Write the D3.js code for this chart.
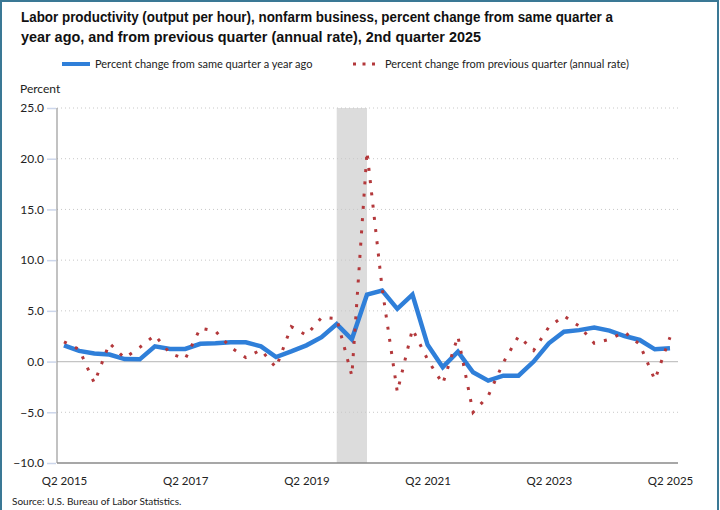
<!DOCTYPE html>
<html lang="en">
<head>
<meta charset="UTF-8">
<title>Labor productivity, nonfarm business</title>
<script src="https://d3js.org/d3.v7.min.js"></script>
<style>
  body { margin: 0; background: #fff; }
  svg { display: block; }
</style>
</head>
<body>
<svg id="chart"></svg>
<script>
// quarters Q2 2015 .. Q2 2025
var quarters = [];
for (var yr = 2015; yr <= 2025; yr++) {
  for (var q = 1; q <= 4; q++) {
    if ((yr === 2015 && q < 2) || (yr === 2025 && q > 2)) continue;
    quarters.push("Q" + q + " " + yr);
  }
}

// percent change from same quarter a year ago
var yearAgo = [1.6, 1.05, 0.8, 0.7, 0.25, 0.22, 1.5, 1.25, 1.25, 1.75,
               1.8, 1.9, 1.9, 1.5, 0.45, 1.0, 1.6, 2.4, 3.7, 2.2,
               6.6, 7.0, 5.2, 6.6, 1.65, -0.55, 0.98, -1.06, -1.88, -1.39,
               -1.39, 0.0, 1.8, 2.95, 3.1, 3.35, 3.05, 2.52, 2.13, 1.21,
               1.31];

// percent change from previous quarter (annual rate)
var prevQuarter = [1.95, 1.2, -2.1, 1.8, 0.35, 1.4, 2.6, 0.8, 0.25, 3.3,
                   3.0, 1.4, 0.4, 1.15, -0.6, 3.45, 2.6, 4.35, 4.25, -1.4,
                   20.7, 7.2, -3.0, 3.2, 0.2, -2.2, 2.5, -5.0, -3.4, -0.1,
                   2.5, 1.1, 3.4, 4.5, 3.5, 1.8, 2.2, 2.9, 1.7, -1.8,
                   2.4];

var xTicks = ["Q2 2015", "Q2 2017", "Q2 2019", "Q2 2021", "Q2 2023", "Q2 2025"];
var yTicks = [-10, -5, 0, 5, 10, 15, 20, 25];
var recession = ["Q4 2019", "Q2 2020"];

var W = 720, H = 510;
var plot = { left: 57, right: 678, top: 108, bottom: 463 };

var svg = d3.select("#chart").attr("width", W).attr("height", H);

var x = d3.scalePoint().domain(quarters).range([64, 670]);
var y = d3.scaleLinear().domain([-10, 25]).range([plot.bottom, plot.top]);

// frame
svg.append("rect")
  .attr("x", 1).attr("y", 1).attr("width", W - 3).attr("height", H + 5)
  .attr("fill", "none").attr("stroke", "#3a7895").attr("stroke-width", 2);

// title
var title = svg.append("text")
  .attr("font-family", "Liberation Sans, Arial, sans-serif")
  .attr("font-weight", "bold").attr("font-size", 14.5).attr("fill", "#111");
title.append("tspan").attr("x", 21).attr("y", 22)
  .attr("textLength", 592).attr("lengthAdjust", "spacingAndGlyphs")
  .text("Labor productivity (output per hour), nonfarm business, percent change from same quarter a");
title.append("tspan").attr("x", 21).attr("y", 42)
  .attr("textLength", 460).attr("lengthAdjust", "spacingAndGlyphs")
  .text("year ago, and from previous quarter (annual rate), 2nd quarter 2025");

// legend
var legend = svg.append("g").attr("font-family", "Lato, sans-serif")
  .attr("font-size", 11).attr("fill", "#222");
legend.append("line").attr("x1", 62).attr("x2", 90).attr("y1", 64).attr("y2", 64)
  .attr("stroke", "#2f7fd9").attr("stroke-width", 4);
legend.append("text").attr("x", 95).attr("y", 68)
  .text("Percent change from same quarter a year ago");
legend.append("line").attr("x1", 353).attr("x2", 378).attr("y1", 64).attr("y2", 64)
  .attr("stroke", "#b3383b").attr("stroke-width", 3).attr("stroke-dasharray", "3,6.5");
legend.append("text").attr("x", 385).attr("y", 68)
  .text("Percent change from previous quarter (annual rate)");

// axis title
svg.append("text").attr("x", 20).attr("y", 93)
  .attr("font-family", "Lato, sans-serif").attr("font-size", 12).attr("fill", "#222")
  .text("Percent");

// recession shading
svg.append("rect")
  .attr("x", x(recession[0])).attr("y", plot.top)
  .attr("width", x(recession[1]) - x(recession[0]))
  .attr("height", plot.bottom - plot.top)
  .attr("fill", "#dcdcdc");

// gridlines
svg.append("g").selectAll("line")
  .data(yTicks.filter(function (d) { return d !== 0 && d !== -10; }))
  .enter().append("line")
  .attr("x1", plot.left).attr("x2", plot.right)
  .attr("y1", function (d) { return y(d); }).attr("y2", function (d) { return y(d); })
  .attr("stroke", "#c8c8c8").attr("stroke-width", 1).attr("stroke-dasharray", "1,3");

svg.append("line")
  .attr("x1", plot.left).attr("x2", plot.right)
  .attr("y1", y(0)).attr("y2", y(0))
  .attr("stroke", "#c4c4c4").attr("stroke-width", 1.2);

// y axis
var yAxis = svg.append("g").attr("transform", "translate(" + plot.left + ",0)")
  .call(d3.axisLeft(y).tickValues(yTicks).tickFormat(d3.format(".1f"))
    .tickSize(9).tickPadding(4));
yAxis.select(".domain").remove();
yAxis.selectAll(".tick line").attr("stroke", "#ccd6eb").attr("stroke-width", 1.5)
  .attr("transform", "translate(-1,0)");
yAxis.selectAll(".tick text").attr("font-family", "Lato, sans-serif")
  .attr("font-size", 12).attr("fill", "#222");
svg.append("line").attr("x1", plot.left).attr("x2", plot.left)
  .attr("y1", plot.top).attr("y2", plot.bottom)
  .attr("stroke", "#999").attr("stroke-width", 1.2);

// x axis
var xAxis = svg.append("g").attr("transform", "translate(0," + plot.bottom + ")")
  .call(d3.axisBottom(x).tickValues(xTicks).tickSize(0).tickPadding(14));
xAxis.select(".domain").remove();
xAxis.selectAll(".tick text").attr("font-family", "Lato, sans-serif")
  .attr("font-size", 11.5).attr("fill", "#222");
svg.append("line").attr("x1", plot.left).attr("x2", plot.right)
  .attr("y1", plot.bottom).attr("y2", plot.bottom)
  .attr("stroke", "#8a8a8a").attr("stroke-width", 1.5);

// series
var line = d3.line()
  .x(function (d, i) { return x(quarters[i]); })
  .y(function (d) { return y(d); });

svg.append("path").datum(yearAgo)
  .attr("d", line).attr("fill", "none")
  .attr("stroke", "#2f7fd9").attr("stroke-width", 4.5)
  .attr("stroke-linejoin", "miter");

svg.append("path").datum(prevQuarter)
  .attr("d", line).attr("fill", "none")
  .attr("stroke", "#b3383b").attr("stroke-width", 3)
  .attr("stroke-dasharray", "3,9.3");

// source
svg.append("text").attr("x", 12).attr("y", 505)
  .attr("font-family", "Lato, sans-serif").attr("font-size", 10).attr("fill", "#222")
  .text("Source: U.S. Bureau of Labor Statistics.");
</script>
</body>
</html>
